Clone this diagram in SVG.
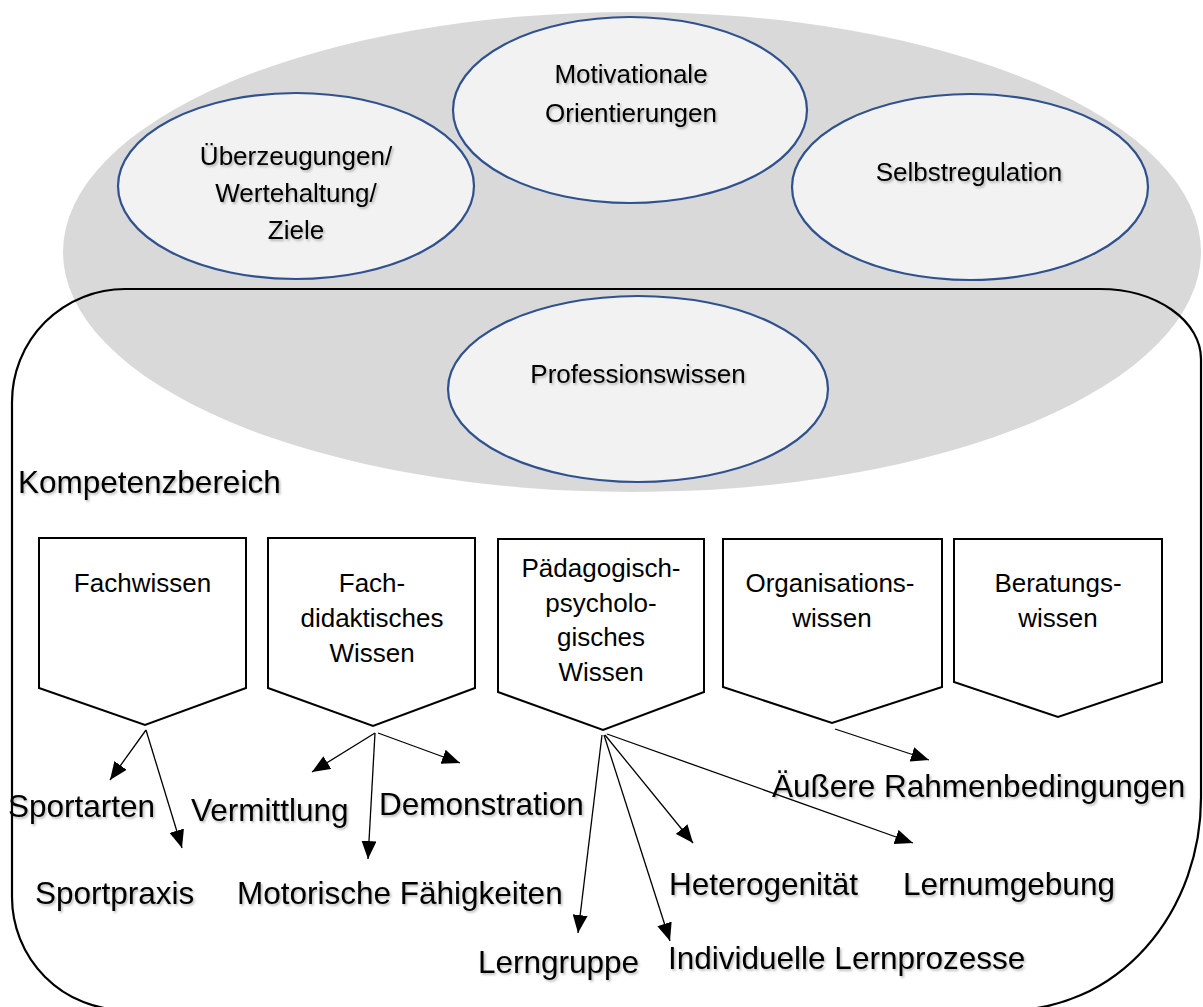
<svg xmlns="http://www.w3.org/2000/svg" width="1203" height="1007" viewBox="0 0 1203 1007">
  <defs>
    <style>
      text { font-family: "Liberation Sans", Arial, sans-serif; fill: #000; }
      .oval { fill: #f2f2f2; stroke: #2f528f; stroke-width: 2.2; }
      .oval-text { font-size: 26px; text-anchor: middle; }
      .box { fill: #fff; stroke: #000; stroke-width: 2; stroke-linejoin: miter; }
      .box-text { font-size: 26px; text-anchor: middle; }
      .label { font-size: 31.5px; }
      .shadowed { filter: url(#textShadow); }
      .link { stroke: #000; stroke-width: 1.3; fill: none; marker-end: url(#arrow); }
    </style>
    <filter id="textShadow" x="-5%" y="-20%" width="110%" height="140%">
      <feDropShadow dx="1.5" dy="1.8" stdDeviation="1" flood-color="#000" flood-opacity="0.28"/>
    </filter>
    <marker id="arrow" markerUnits="userSpaceOnUse" markerWidth="19" markerHeight="15" refX="18" refY="7.5" orient="auto">
      <path d="M0,0 L18,7.5 L0,15 Z" fill="#000"/>
    </marker>
  </defs>

  <!-- background field of dispositions -->
  <ellipse id="dispositions" cx="632" cy="252" rx="569" ry="240" fill="#d9d9d9"/>

  <!-- competence area frame -->
  <path id="competence-frame" d="M125,289 H1100 A101,70 0 0 1 1201,359 V798 A190,212 0 0 1 1011,1010 H125 A113,113 0 0 1 12,897 V402 A113,113 0 0 1 125,289 Z" fill="none" stroke="#000" stroke-width="2.2"/>

  <g id="node-ueberzeugungen">
    <ellipse class="oval" cx="296" cy="186" rx="178" ry="93"/>
    <text class="oval-text shadowed" x="296" y="165">Überzeugungen/</text>
    <text class="oval-text shadowed" x="296" y="202">Wertehaltung/</text>
    <text class="oval-text shadowed" x="296" y="239">Ziele</text>
  </g>

  <g id="node-motivation">
    <ellipse class="oval" cx="630" cy="110" rx="177" ry="93"/>
    <text class="oval-text shadowed" x="631" y="83">Motivationale</text>
    <text class="oval-text shadowed" x="631" y="122">Orientierungen</text>
  </g>

  <g id="node-selbstregulation">
    <ellipse class="oval" cx="970" cy="187" rx="178" ry="93"/>
    <text class="oval-text shadowed" x="969" y="181">Selbstregulation</text>
  </g>

  <g id="node-professionswissen">
    <ellipse class="oval" cx="638" cy="389" rx="190" ry="93"/>
    <text class="oval-text shadowed" x="638" y="383">Professionswissen</text>
  </g>

  <g id="title-kompetenzbereich">
    <text class="label shadowed" x="18" y="493">Kompetenzbereich</text>
  </g>

  <g id="node-fachwissen">
    <polygon class="box" points="39,538 246,538 246,688 145,725 39,688"/>
    <text class="box-text" x="142.5" y="592">Fachwissen</text>
  </g>

  <g id="node-fachdidaktik">
    <polygon class="box" points="268,538 475,538 475,688 373,726 268,688"/>
    <text class="box-text" x="372" y="592">Fach-</text>
    <text class="box-text" x="372" y="627">didaktisches</text>
    <text class="box-text" x="372" y="662">Wissen</text>
  </g>

  <g id="node-paedagogik">
    <polygon class="box" points="498,539 704,539 704,692 603,730 498,692"/>
    <text class="box-text" x="601" y="577">Pädagogisch-</text>
    <text class="box-text" x="601" y="612">psycholo-</text>
    <text class="box-text" x="601" y="646">gisches</text>
    <text class="box-text" x="601" y="681">Wissen</text>
  </g>

  <g id="node-organisation">
    <polygon class="box" points="723,539 942,539 942,687 832,723 723,687"/>
    <text class="box-text" x="830" y="592">Organisations-</text>
    <text class="box-text" x="832" y="627">wissen</text>
  </g>

  <g id="node-beratung">
    <polygon class="box" points="954,539 1162,539 1162,682 1058,717 954,682"/>
    <text class="box-text" x="1058" y="592">Beratungs-</text>
    <text class="box-text" x="1058" y="627">wissen</text>
  </g>

  <g id="connectors">
    <line class="link" x1="146" y1="730" x2="110" y2="780"/>
    <line class="link" x1="146" y1="730" x2="182" y2="848"/>
    <line class="link" x1="375" y1="733" x2="312" y2="772"/>
    <line class="link" x1="375" y1="733" x2="368" y2="859"/>
    <line class="link" x1="378" y1="733" x2="460" y2="763"/>
    <line class="link" x1="602" y1="735" x2="578" y2="933"/>
    <line class="link" x1="604" y1="735" x2="670" y2="941"/>
    <line class="link" x1="605" y1="735" x2="693" y2="843"/>
    <line class="link" x1="607" y1="734" x2="913" y2="843"/>
    <line class="link" x1="835" y1="729" x2="929" y2="760"/>
  </g>

  <g id="labels">
    <text id="label-sportarten" class="label shadowed" x="8" y="817">Sportarten</text>
    <text id="label-sportpraxis" class="label shadowed" x="35" y="904">Sportpraxis</text>
    <text id="label-vermittlung" class="label shadowed" x="191" y="821">Vermittlung</text>
    <text id="label-demonstration" class="label shadowed" x="379" y="815">Demonstration</text>
    <text id="label-motorik" class="label shadowed" x="237" y="904">Motorische Fähigkeiten</text>
    <text id="label-rahmen" class="label shadowed" x="772" y="797">Äußere Rahmenbedingungen</text>
    <text id="label-heterogenitaet" class="label shadowed" x="669" y="895">Heterogenität</text>
    <text id="label-lernumgebung" class="label shadowed" x="903" y="895">Lernumgebung</text>
    <text id="label-lerngruppe" class="label shadowed" x="478" y="973">Lerngruppe</text>
    <text id="label-lernprozesse" class="label shadowed" x="668" y="969">Individuelle Lernprozesse</text>
  </g>
</svg>
